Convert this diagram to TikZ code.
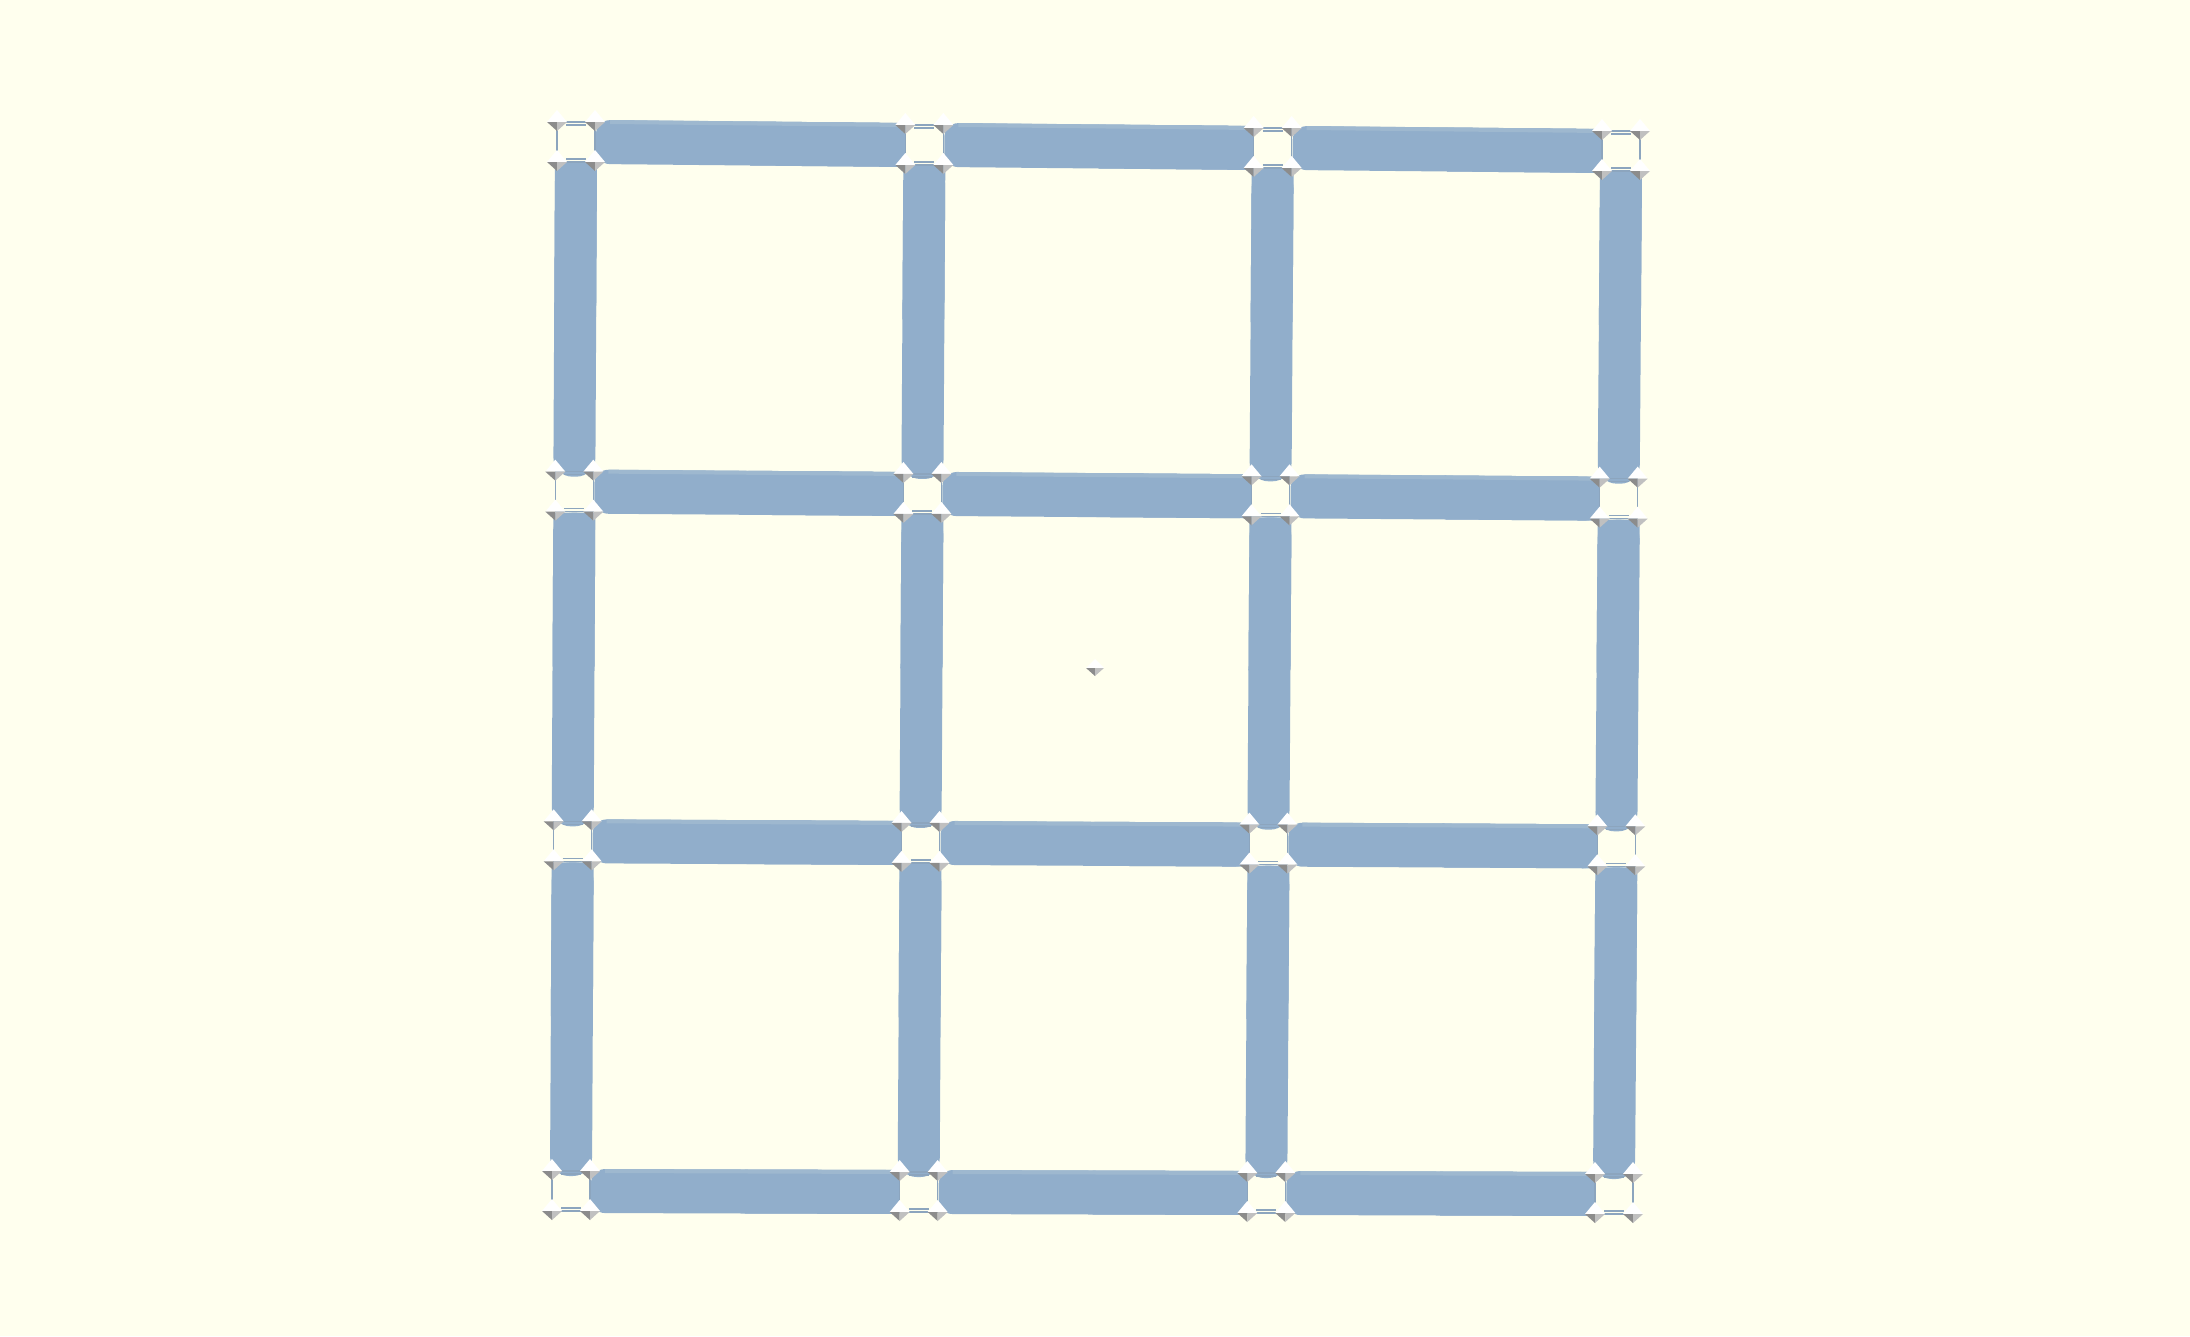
\documentclass[tikz,border=0pt]{standalone}
\usepackage{xcolor}
\usetikzlibrary{calc}
\definecolor{bgc}{RGB}{255,255,238}
\definecolor{rodc}{RGB}{145,174,203}
\definecolor{rodhi}{RGB}{158,184,207}
\definecolor{wirec}{RGB}{140,165,190}
\definecolor{pyrdk}{RGB}{140,140,140}
\definecolor{pyrlt}{RGB}{192,192,192}

% rod between two joints: rounded at the far (left/bottom) end only
\newcommand{\hrod}[2]{%
  \fill[rod,rounded corners=14pt] ($(#1)+(20,-22)$) -- ($(#2)+(-19,-22)$) -- ($(#2)+(-19,22)$) -- ($(#1)+(20,22)$) -- cycle;
  \fill[rod] ($(#1)!0.5!(#2)+(0,-22)$) -- ($(#2)+(-19,-22)$) -- ($(#2)+(-19,22)$) -- ($(#1)!0.5!(#2)+(0,22)$) -- cycle;
  \fill[rodtop] ($(#1)+(34,-22)$) -- ($(#2)+(-19,-22)$) -- ($(#2)+(-19,-18)$) -- ($(#1)+(34,-18)$) -- cycle;}
\newcommand{\vrod}[2]{%
  \fill[rod,rounded corners=19pt] ($(#1)+(-21,21)$) -- ($(#2)+(-21,-15)$) -- ($(#2)+(21,-15)$) -- ($(#1)+(21,21)$) -- cycle;
  \fill[rod] ($(#1)+(-21,21)$) -- ($(#1)!0.5!(#2)+(-21,0)$) -- ($(#1)!0.5!(#2)+(21,0)$) -- ($(#1)+(21,21)$) -- cycle;}
% small pyramid: position, half width, rise, drop
\newcommand{\pyr}[4]{%
  \fill[white] ($(#1)+(-#2,0)$) -- ($(#1)+(0,-#3)$) -- ($(#1)+(#2,0)$) -- cycle;
  \fill[pyrdk] ($(#1)+(-#2,0)$) -- ($(#1)+(0,#4)$) -- (#1) -- cycle;
  \fill[pyrlt] (#1) -- ($(#1)+(0,#4)$) -- ($(#1)+(#2,0)$) -- cycle;}

\begin{document}
\begin{tikzpicture}[x=1pt,y=-1pt,
  rod/.style={fill=rodc},
  rodtop/.style={fill=rodhi},
  wire/.style={draw=wirec,line width=1.2pt}]
\fill[bgc] (0,0) rectangle (2190,1336);
\useasboundingbox (0,0) rectangle (2190,1336);
% --- grid joints, between the four corner joints ---
\foreach \i in {0,...,3}{
  \foreach \j in {0,...,3}{
    \pgfmathsetmacro{\uu}{\i/3}
    \pgfmathsetmacro{\vv}{\j/3}
    \pgfmathsetmacro{\px}{(1-\uu)*(1-\vv)*576+\uu*(1-\vv)*1621+(1-\uu)*\vv*571+\uu*\vv*1614}
    \pgfmathsetmacro{\py}{(1-\uu)*(1-\vv)*142+\uu*(1-\vv)*151+(1-\uu)*\vv*1191+\uu*\vv*1194}
    \coordinate (n\i\j) at (\px,\py);
  }}
\coordinate (ctr) at (1095,668);
% --- rods ---
\foreach \i/\k in {0/1,1/2,2/3}{
  \foreach \j in {0,...,3}{
    \hrod{n\i\j}{n\k\j}
    \vrod{n\j\i}{n\j\k}
  }}
% --- joints: wire square and four small pyramids ---
\foreach \i in {0,...,3}{
  \foreach \j in {0,...,3}{
    \draw[wire] ($(n\i\j)+(-19,-20)$) rectangle ($(n\i\j)+(19,20)$);
    \draw[wire] ($(n\i\j)+(-10,-17)$) -- ($(n\i\j)+(10,-17)$)
                ($(n\i\j)+(-10,17)$) -- ($(n\i\j)+(10,17)$);
    \foreach \dx in {-19,19}{
      \foreach \dy in {-20,20}{
        \coordinate (p) at ($(n\i\j)+(\dx,\dy)$);
        \pyr{p}{10}{12}{9}
      }}
  }}
\pyr{ctr}{9}{9}{8}
\end{tikzpicture}
\end{document}
